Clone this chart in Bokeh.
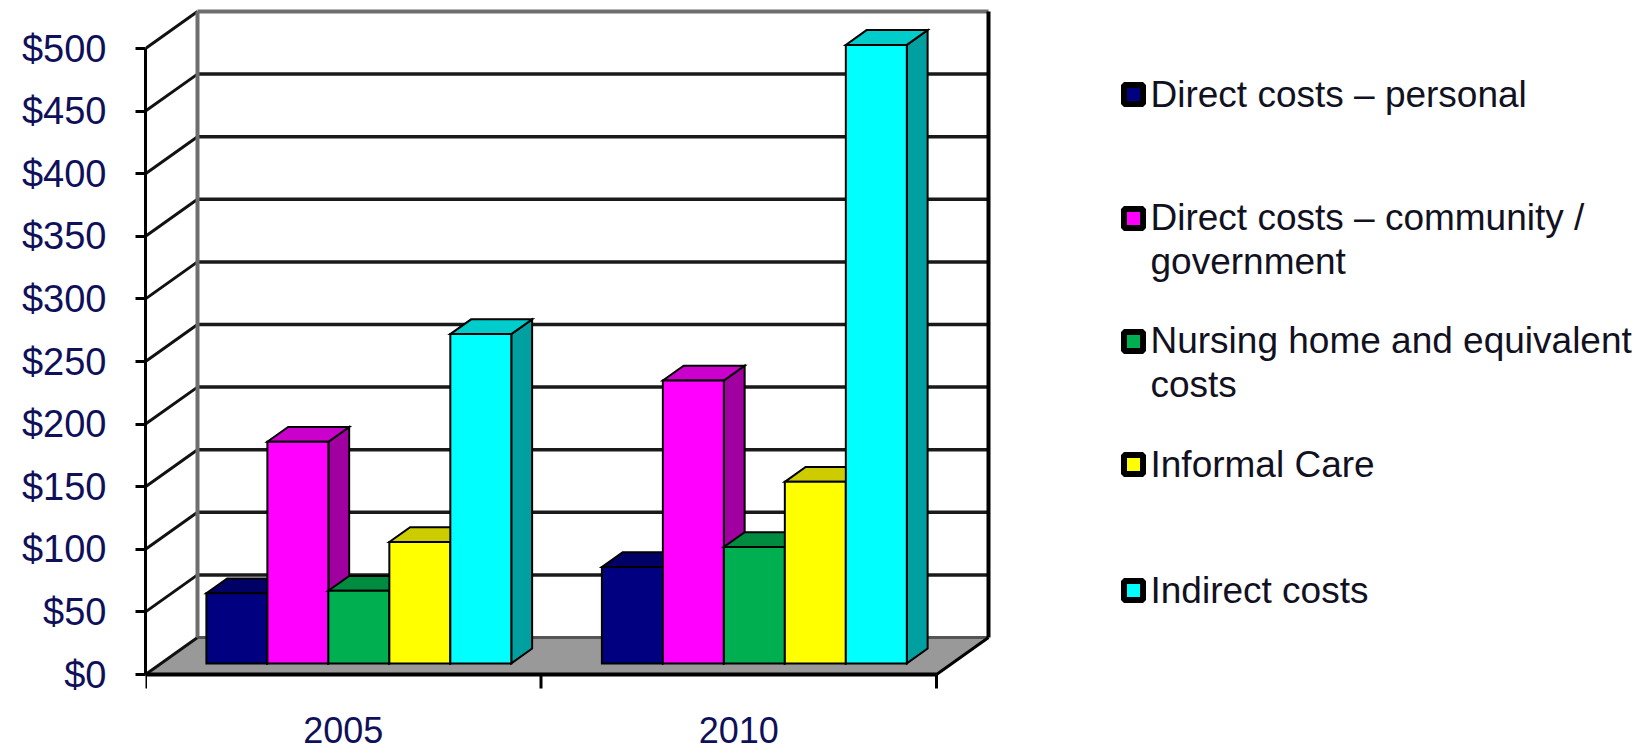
from bokeh.plotting import figure
from bokeh.models import FixedTicker, Range1d
from bokeh.embed import file_html
from bokeh.resources import INLINE
from bokeh.core.properties import value

# ---------------- DATA ----------------
years = ["2005", "2010"]
series = [
    "Direct costs \u2013 personal",
    "Direct costs \u2013 community /\ngovernment",
    "Nursing home and equivalent\ncosts",
    "Informal Care",
    "Indirect costs",
]
costs_2005 = [56, 177, 58, 97, 263]
costs_2010 = [77, 226, 93, 145, 494]
y_ticks = [0, 50, 100, 150, 200, 250, 300, 350, 400, 450, 500]
y_tick_labels = ["$0", "$50", "$100", "$150", "$200", "$250", "$300",
                 "$350", "$400", "$450", "$500"]
colors = ["#000080", "#FF00FF", "#00B050", "#FFFF00", "#00FFFF"]

values = [costs_2005, costs_2010]

# ---------------- LAYOUT ----------------
W, H = 1640, 752
FRAME_LEFT = 145          # canvas px of the front value axis
ZERO_Y = 674              # canvas px of $0 on the front plane
PX_PER_CAT = 395.5
PX_PER_USD = 1.252
DEPTH_DX = 52 / PX_PER_CAT      # depth offset in category units
DEPTH_DY = 37 / PX_PER_USD      # depth offset in $ units
Z0, Z1 = 0.3, 0.7               # bar depth span
GROUP = 0.771                   # group width as share of a category
YMAX = y_ticks[-1]
ncat = len(years)
nser = len(series)
FONT = "Liberation Sans"


def px2x(px):
    return (px - FRAME_LEFT) / PX_PER_CAT


def px2y(py):
    return (ZERO_Y - py) / PX_PER_USD


def proj(x, y, z):
    return x + z * DEPTH_DX, y + z * DEPTH_DY


def shade(c, f):
    r, g, b = int(c[1:3], 16), int(c[3:5], 16), int(c[5:7], 16)
    return "#%02x%02x%02x" % (int(r * f), int(g * f), int(b * f))


def seg(p0, p1):
    a = proj(*p0)
    b = proj(*p1)
    return [a[0], b[0]], [a[1], b[1]]


p = figure(width=W, height=H,
           x_range=Range1d(0, (W - FRAME_LEFT) / PX_PER_CAT),
           y_range=Range1d(-(H - ZERO_Y) / PX_PER_USD, ZERO_Y / PX_PER_USD),
           x_axis_location=None, y_axis_location="left",
           toolbar_location=None, output_backend="svg",
           min_border_left=FRAME_LEFT, min_border_right=0,
           min_border_top=0, min_border_bottom=0,
           outline_line_color=None, background_fill_color="white")
p.grid.visible = False

ax = p.yaxis[0]
ax.ticker = FixedTicker(ticks=y_ticks)
ax.major_label_overrides = {t: l for t, l in zip(y_ticks, y_tick_labels)}
ax.bounds = (0, YMAX)
ax.axis_line_width = 3
ax.axis_line_color = "black"
ax.major_tick_out = 10
ax.major_tick_in = 0
ax.major_tick_line_width = 3
ax.minor_tick_out = 0
ax.minor_tick_in = 0
ax.major_label_text_font = FONT
ax.major_label_text_font_size = "38px"
ax.major_label_text_color = "#10105a"
ax.major_label_standoff = 29

# ---- floor ----
fl = [proj(0, 0, 0), proj(ncat, 0, 0), proj(ncat, 0, 1), proj(0, 0, 1)]
p.patch([q[0] for q in fl], [q[1] for q in fl], fill_color="#999999", line_color=None)

# ---- back wall gridlines ----
gx, gy = [], []
for t in y_ticks[1:-1]:
    xs, ys = seg((0, t, 1), (ncat, t, 1))
    gx.append(xs); gy.append(ys)
p.multi_line(gx, gy, line_color="#1a1a1a", line_width=3.5)

# ---- side wall diagonals ----
dx_, dy_ = [], []
for t in y_ticks:
    xs, ys = seg((0, t, 0), (0, t, 1))
    dx_.append(xs); dy_.append(ys)
p.multi_line(dx_, dy_, line_color="#111111", line_width=3)

# ---- wall edges ----
xs, ys = seg((0, 0, 1), (0, YMAX, 1))
p.line(xs, ys, line_color="#6e6e6e", line_width=4)
xs, ys = seg((0, YMAX, 1), (ncat, YMAX, 1))
p.line(xs, ys, line_color="#6e6e6e", line_width=4)
xs, ys = seg((0, 0, 1), (ncat, 0, 1))
p.line(xs, ys, line_color="#555555", line_width=3)
xs, ys = seg((ncat, 0, 1), (ncat, YMAX, 1))
p.line(xs, ys, line_color="black", line_width=4)
xs, ys = seg((ncat, 0, 0), (ncat, 0, 1))
p.line(xs, ys, line_color="black", line_width=3)

# ---- bars ----
bw = GROUP / nser
fx, fy, fc = [], [], []
for i in range(ncat):
    start = i + (1 - GROUP) / 2
    for j in range(nser):
        v = values[i][j]
        xl = start + j * bw
        xr = xl + bw
        side = [proj(xr, 0, Z0), proj(xr, 0, Z1), proj(xr, v, Z1), proj(xr, v, Z0)]
        top = [proj(xl, v, Z0), proj(xr, v, Z0), proj(xr, v, Z1), proj(xl, v, Z1)]
        front = [proj(xl, 0, Z0), proj(xr, 0, Z0), proj(xr, v, Z0), proj(xl, v, Z0)]
        for face, col in ((side, shade(colors[j], 0.63)),
                          (top, shade(colors[j], 0.8)),
                          (front, colors[j])):
            fx.append([q[0] for q in face])
            fy.append([q[1] for q in face])
            fc.append(col)
p.patches(fx, fy, fill_color=fc, line_color="black", line_width=2, line_join="miter")

# ---- front category axis ----
p.line([0, ncat], [0, 0], line_color="black", line_width=4)
tick_len = 14 / PX_PER_USD
p.multi_line([[k, k] for k in range(ncat + 1)], [[0, -tick_len]] * (ncat + 1),
             line_color="black", line_width=3)
p.text(x=[i + 0.5 for i in range(ncat)], y=[px2y(729)] * ncat, text=years,
       text_align="center", text_baseline="middle",
       text_font=value(FONT), text_font_size="36px",
       text_color="#10105a")

# ---- legend ----
LEG_SQ_X = 1133
LEG_TX_X = 1150
LEG_Y = [94, 218, 341, 464, 590]
LINE_GAP = 42
sq_y = [px2y(py) for py in LEG_Y]
tx_y = [px2y(py + LINE_GAP / 2 * s.count("\n")) for py, s in zip(LEG_Y, series)]
p.scatter(x=[px2x(LEG_SQ_X)] * nser, y=sq_y, marker="square", size=19,
          fill_color=colors, line_color="black", line_width=6)
p.text(x=[px2x(LEG_TX_X)] * nser, y=tx_y, text=series,
       text_align="left", text_baseline="middle", text_line_height=1.05,
       text_font=value(FONT), text_font_size="37px",
       text_color="#111122")

open("out.html", "w").write(file_html(p, INLINE))
